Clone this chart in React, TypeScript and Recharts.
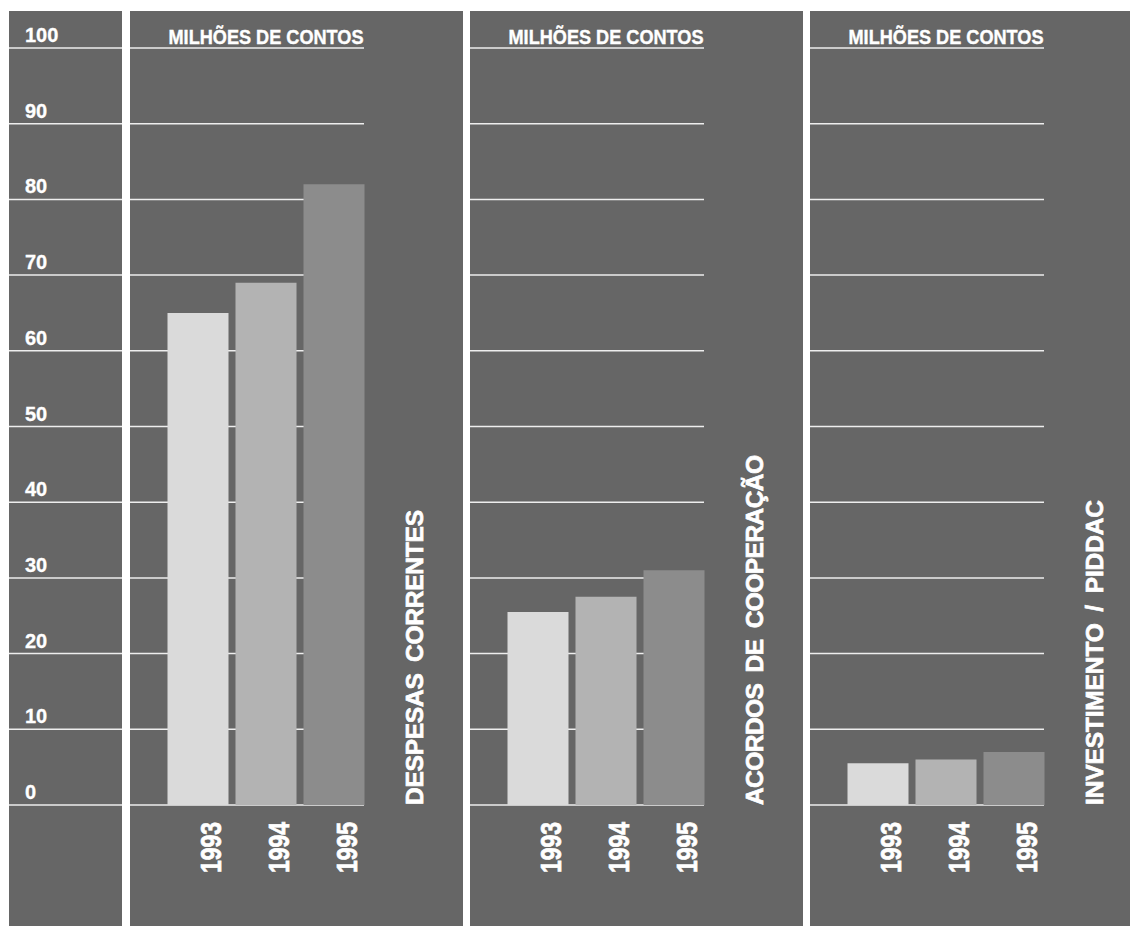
import React from 'react';
import { BarChart, Bar, XAxis, YAxis, CartesianGrid, Cell } from 'recharts';

const years = ['1993', '1994', '1995'];
const despesasCorrentes = [65, 69, 82];
const acordosCooperacao = [25.5, 27.5, 31];
const investimentoPiddac = [5.5, 6, 7];
const yTicks = [0, 10, 20, 30, 40, 50, 60, 70, 80, 90, 100];
const unitLabel = 'MILHÕES DE CONTOS';
const panelTitles = ['DESPESAS CORRENTES', 'ACORDOS DE COOPERAÇÃO', 'INVESTIMENTO / PIDDAC'];

const barColors = ['#dadada', '#b3b3b3', '#8c8c8c'];
const panelBg = '#666666';
const gridColor = '#eeeeee';
const FONT = '"Liberation Sans Narrow", "Liberation Sans", Arial, Helvetica, sans-serif';
const FONT_REG = '"Liberation Sans", Arial, Helvetica, sans-serif';

const PANEL_TOP = 11;
const PANEL_H = 915;
const PLOT_TOP = 37;
const AXIS_H = 121;
const PLOT_W = 234;

function YearTick(props: any) {
  const { x, payload } = props;
  const tx = x + 23;
  const ty = 811;
  return (
    <text
      x={tx}
      y={ty}
      transform={`rotate(-90 ${tx} ${ty})`}
      textAnchor="end"
      fill="#ffffff"
      stroke="#ffffff"
      strokeWidth={0.7}
      fontSize={29}
      fontWeight="bold"
      fontFamily={FONT}
      textLength={51}
      lengthAdjust="spacingAndGlyphs"
    >
      {payload.value}
    </text>
  );
}

function ValueTick(props: any) {
  const { y, payload } = props;
  return (
    <text
      x={16}
      y={y - 6}
      textAnchor="start"
      fill="#ffffff"
      stroke="#ffffff"
      strokeWidth={0.3}
      fontSize={20}
      fontWeight="bold"
      fontFamily={FONT_REG}
    >
      {payload.value}
    </text>
  );
}

type PanelProps = {
  left: number;
  width: number;
  values: number[];
  title: string;
  titleLength: number;
  withAxis?: boolean;
};

// withAxis: this chart also spans the narrow value-axis panel on its left (121 px wide incl. gap)
function DataPanel({ left, width, values, title, titleLength, withAxis }: PanelProps) {
  const data = years.map((y, i) => ({ year: y, value: values[i] }));
  const off = withAxis ? 121 : 0;
  const chartW = width + off;
  const tx = off + 293;
  const ty = 794;
  return (
    <div style={{ position: 'absolute', left: left - off, top: PANEL_TOP, width: chartW, height: PANEL_H, background: panelBg }}>
      <BarChart
        width={chartW}
        height={PANEL_H}
        data={data}
        margin={{ top: PLOT_TOP, right: width - PLOT_W, bottom: 0, left: 0 }}
      >
        <CartesianGrid vertical={false} stroke={gridColor} strokeWidth={1.5} />
        {withAxis ? (
          <YAxis
            type="number"
            domain={[0, 100]}
            ticks={yTicks}
            interval={0}
            mirror
            width={60}
            axisLine={false}
            tickLine={false}
            tick={<ValueTick />}
          />
        ) : (
          <YAxis hide type="number" domain={[0, 100]} ticks={yTicks} interval={0} />
        )}
        <XAxis
          dataKey="year"
          height={AXIS_H}
          padding={{ left: off + 33.5, right: -3.5 }}
          axisLine={false}
          tickLine={false}
          interval={0}
          tick={<YearTick />}
        />
        <Bar dataKey="value" barSize={61} isAnimationActive={false}>
          {data.map((d, i) => (
            <Cell key={d.year} fill={barColors[i]} />
          ))}
        </Bar>
        <text
          x={off + 233.5}
          y={33}
          textAnchor="end"
          fill="#ffffff"
          stroke="#ffffff"
          strokeWidth={0.4}
          fontSize={20.5}
          fontWeight="bold"
          fontFamily={FONT}
          textLength={195}
          lengthAdjust="spacingAndGlyphs"
        >
          {unitLabel}
        </text>
        <text
          x={tx}
          y={ty}
          transform={`rotate(-90 ${tx} ${ty})`}
          textAnchor="start"
          fill="#ffffff"
          stroke="#ffffff"
          strokeWidth={0.7}
          fontSize={24.5}
          fontWeight="bold"
          fontFamily={FONT}
          wordSpacing={5}
          textLength={titleLength}
          lengthAdjust="spacing"
        >
          {title}
        </text>
        {withAxis ? <rect x={113} y={0} width={8} height={PANEL_H} fill="#ffffff" /> : null}
      </BarChart>
    </div>
  );
}

export default function App() {
  return (
    <div style={{ position: 'absolute', left: 0, top: 0, width: 1130, height: 926, background: '#ffffff', overflow: 'hidden' }}>
      <DataPanel left={130} width={333} values={despesasCorrentes} title={panelTitles[0]} titleLength={295} withAxis />
      <DataPanel left={470} width={333} values={acordosCooperacao} title={panelTitles[1]} titleLength={350} />
      <DataPanel left={810} width={320} values={investimentoPiddac} title={panelTitles[2]} titleLength={305} />
    </div>
  );
}
